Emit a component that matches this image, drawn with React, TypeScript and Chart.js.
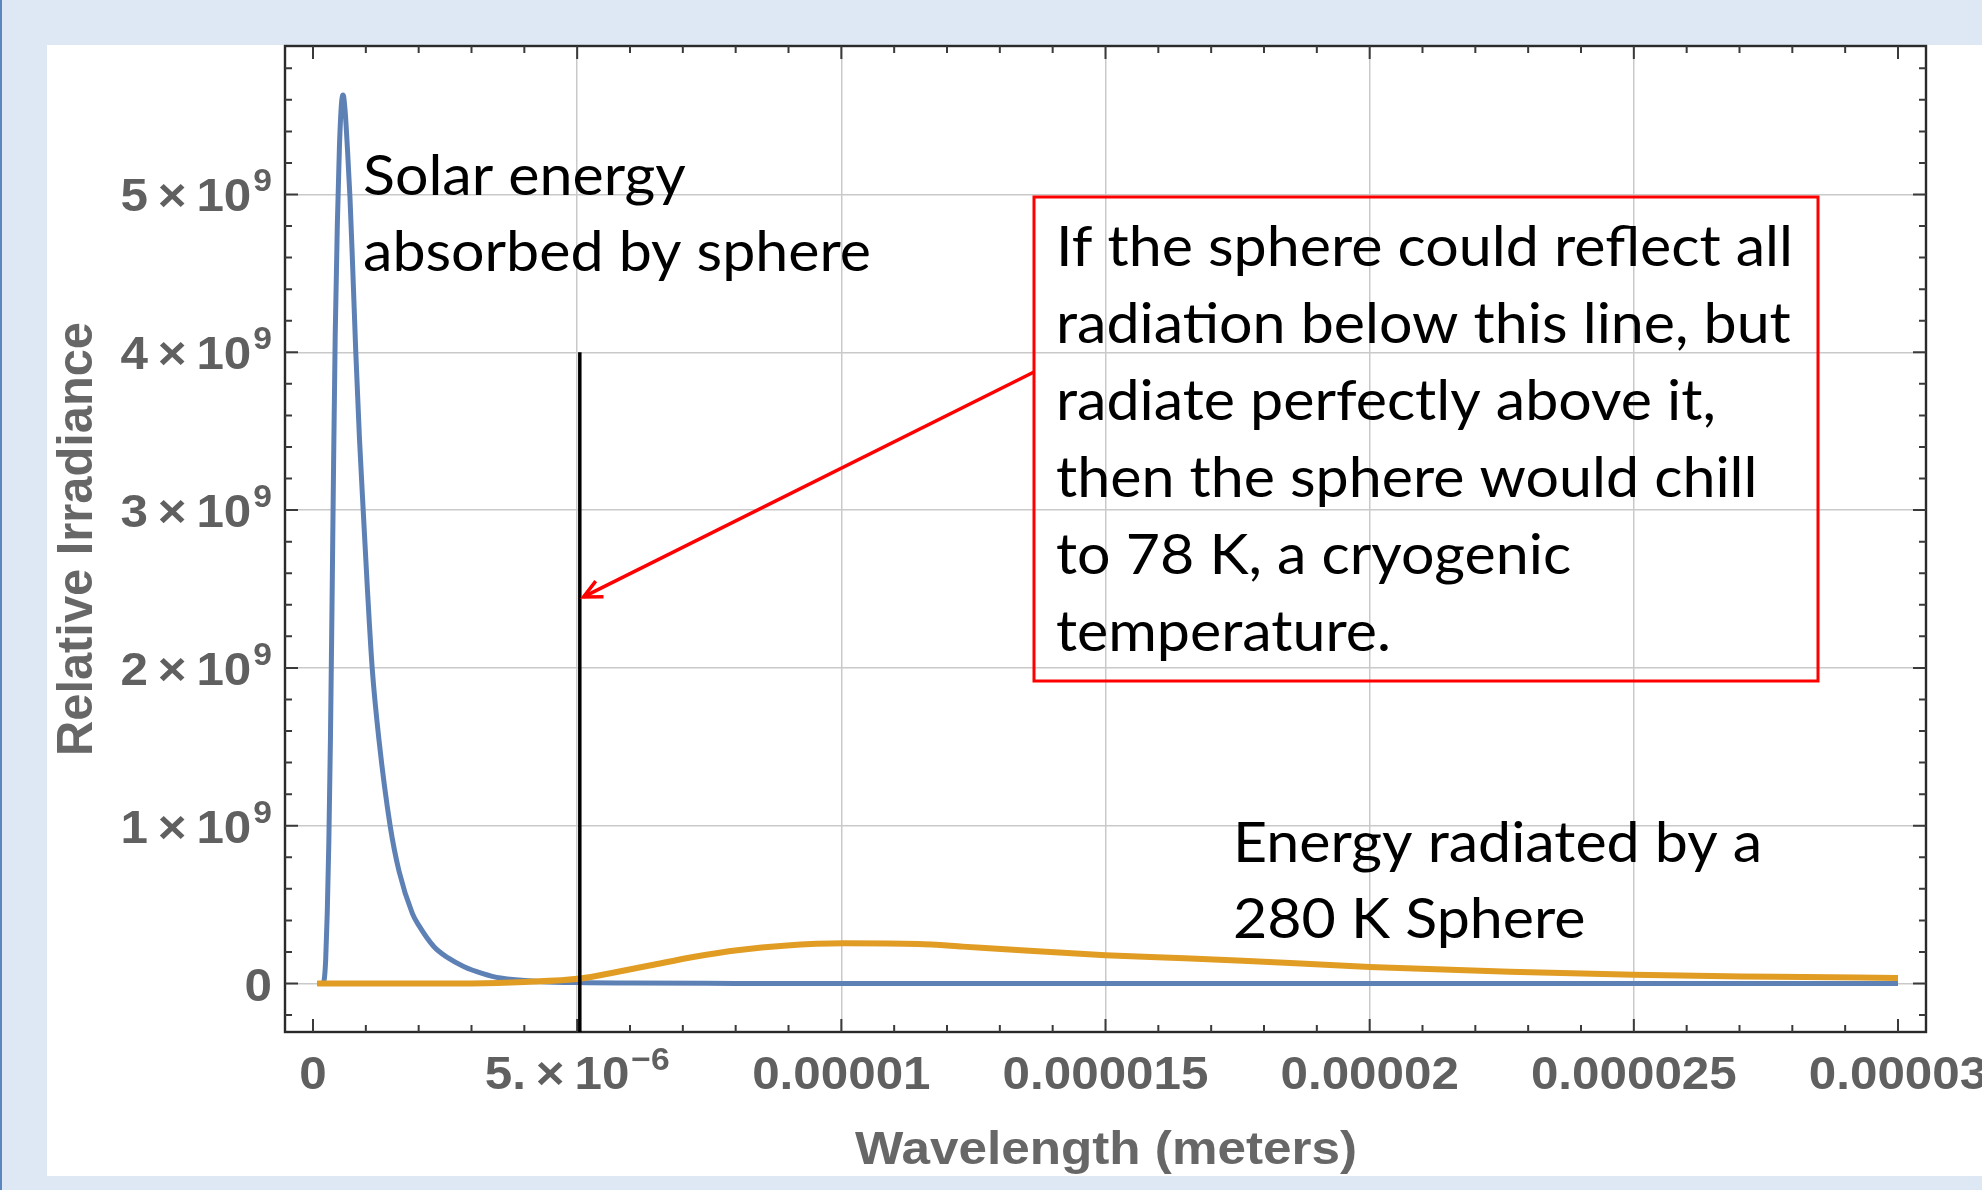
import React, { useEffect, useRef } from "react";
import { Chart, registerables } from "chart.js";

Chart.register(...registerables);

const W = 1982;
const H = 1190;

// ---- Data (wavelength in meters, irradiance relative) ----
const solarWavelength = [
  0.08e-6, 0.18e-6, 0.21e-6, 0.24e-6, 0.27e-6, 0.30e-6, 0.33e-6, 0.36e-6, 0.39e-6, 0.42e-6,
  0.46e-6, 0.50e-6, 0.54e-6, 0.57e-6, 0.61e-6, 0.65e-6, 0.70e-6, 0.75e-6, 0.81e-6, 0.88e-6,
  0.95e-6, 1.03e-6, 1.12e-6, 1.25e-6, 1.46e-6, 1.63e-6, 1.88e-6, 2.0e-6, 2.29e-6, 2.55e-6,
  2.86e-6, 3.2e-6, 3.55e-6, 4.37e-6, 5.0e-6, 6.0e-6, 8.0e-6, 10e-6, 15e-6, 20e-6, 25e-6, 30e-6,
];
const solarIrradiance = [
  0, 0, 0.02e9, 0.15e9, 0.45e9, 0.9e9, 1.55e9, 2.4e9, 3.3e9, 4.1e9,
  4.8e9, 5.3e9, 5.58e9, 5.63e9, 5.52e9, 5.3e9, 4.98e9, 4.55e9, 4.0e9, 3.45e9,
  3.0e9, 2.5e9, 2.0e9, 1.54e9, 1.0e9, 0.71e9, 0.445e9, 0.37e9, 0.233e9, 0.164e9,
  0.107e9, 0.065e9, 0.035e9, 0.012e9, 0.006e9, 0.003e9, 0.001e9, 0, 0, 0, 0, 0,
];

const sphereWavelength = [
  0.08e-6, 1e-6, 2e-6, 3e-6, 4e-6, 5.06e-6, 5.7e-6, 6.37e-6, 7.22e-6, 8.07e-6, 8.91e-6,
  10.05e-6, 11.45e-6, 12.3e-6, 13.1e-6, 15e-6, 16.5e-6, 17.6e-6, 20e-6, 22.65e-6,
  25e-6, 27.7e-6, 30e-6,
];
const sphereIrradiance = [
  0, 0, 0, 0.001e9, 0.01e9, 0.032e9, 0.07e9, 0.114e9, 0.17e9, 0.213e9, 0.24e9,
  0.255e9, 0.25e9, 0.234e9, 0.217e9, 0.18e9, 0.16e9, 0.145e9, 0.105e9, 0.075e9,
  0.055e9, 0.043e9, 0.035e9,
];

// ---- Axes ----
const X_MIN = -0.53e-6;
const X_MAX = 30.53e-6;
const Y_MIN = -0.307e9;
const Y_MAX = 5.941e9;

const xTickValues = [0, 5e-6, 1e-5, 1.5e-5, 2e-5, 2.5e-5, 3e-5];
const xTickLabels = ["0", "5.×10^−6", "0.00001", "0.000015", "0.00002", "0.000025", "0.00003"];
const xGridValues = [5e-6, 1e-5, 1.5e-5, 2e-5, 2.5e-5];
const xMinorStep = 1e-6;

const yTickValues = [0, 1e9, 2e9, 3e9, 4e9, 5e9];
const yTickLabels = ["0", "1×10^9", "2×10^9", "3×10^9", "4×10^9", "5×10^9"];
const yGridValues = [0, 1e9, 2e9, 3e9, 4e9, 5e9];
const yMinorStep = 0.2e9;

const xTitle = "Wavelength (meters)";
const yTitle = "Relative Irradiance";

// ---- Annotations ----
const cutoffWavelength = 5.05e-6;
const cutoffTop = 4e9;
const arrowTip = { x: 5.12e-6, y: 2.45e9 };
const solarLabel = ["Solar energy", "absorbed by sphere"];
const sphereLabel = ["Energy radiated by a", "280 K Sphere"];
const boxLines = [
  "If the sphere could reflect all",
  "radiation below this line, but",
  "radiate perfectly above it,",
  "then the sphere would chill",
  "to 78 K, a cryogenic",
  "temperature.",
];

const AREA = { left: 285, top: 46, right: 1926, bottom: 1032 };
const TICK_FONT = 'bold 47px "Liberation Sans", Arial, sans-serif';
const SUP_FONT = 'bold 32px "Liberation Sans", Arial, sans-serif';
const TICK_SX = 1.05;
const AXIS_GRAY = "#606060";
const NOTE_FONT = '57px Lato, "Open Sans", sans-serif';

function stretchText(ctx: CanvasRenderingContext2D, text: string, x: number, y: number, sx: number) {
  ctx.save();
  ctx.translate(x, y);
  ctx.scale(sx, 1);
  ctx.fillText(text, 0, 0);
  ctx.restore();
}

function drawTickLabel(
  ctx: CanvasRenderingContext2D,
  text: string,
  anchorX: number,
  baselineY: number,
  align: "center" | "right",
  supRaise: number
) {
  const parts = text.split("^");
  const base = parts[0].replace("×", "\u2009×\u2009");
  const exp = parts[1];
  ctx.textAlign = "left";
  ctx.textBaseline = "alphabetic";
  ctx.font = TICK_FONT;
  const wb = ctx.measureText(base).width * TICK_SX;
  let we = 0;
  if (exp) {
    ctx.font = SUP_FONT;
    we = ctx.measureText(exp).width * TICK_SX + 2;
  }
  const total = wb + we;
  const x0 = align === "center" ? anchorX - total / 2 : anchorX - total;
  ctx.font = TICK_FONT;
  stretchText(ctx, base, x0, baselineY, TICK_SX);
  if (exp) {
    ctx.font = SUP_FONT;
    stretchText(ctx, exp, x0 + wb + 2, baselineY - supRaise, TICK_SX);
  }
}

const decorPlugin = {
  id: "decor",
  beforeDraw(chart: any) {
    const ctx: CanvasRenderingContext2D = chart.ctx;
    ctx.save();
    ctx.fillStyle = "#dde8f4";
    ctx.fillRect(0, 0, W, H);
    ctx.fillStyle = "#5b86c0";
    ctx.fillRect(0, 0, 2, H);
    ctx.fillStyle = "#ffffff";
    ctx.fillRect(47, 45, W - 47, 1176 - 45);
    ctx.restore();
  },
  afterDatasetsDraw(chart: any) {
    const ctx: CanvasRenderingContext2D = chart.ctx;
    const xs = chart.scales.x;
    const ys = chart.scales.y;
    const a = chart.chartArea;
    ctx.save();

    // frame
    ctx.strokeStyle = "#2a2a2a";
    ctx.lineWidth = 2.4;
    ctx.strokeRect(a.left, a.top, a.right - a.left, a.bottom - a.top);

    // ticks
    ctx.strokeStyle = "#3a3a3a";
    ctx.lineWidth = 2;
    const MAJ = 13;
    const MIN = 7;
    ctx.beginPath();
    for (let i = 0; i <= 30; i++) {
      const v = i * xMinorStep;
      const px = xs.getPixelForValue(v);
      const len = i % 5 === 0 ? MAJ : MIN;
      ctx.moveTo(px, a.bottom);
      ctx.lineTo(px, a.bottom - len);
      ctx.moveTo(px, a.top);
      ctx.lineTo(px, a.top + len);
    }
    for (let i = -1; i <= 29; i++) {
      const v = i * yMinorStep;
      const py = ys.getPixelForValue(v);
      const len = i % 5 === 0 ? MAJ : MIN;
      ctx.moveTo(a.left, py);
      ctx.lineTo(a.left + len, py);
      ctx.moveTo(a.right, py);
      ctx.lineTo(a.right - len, py);
    }
    ctx.stroke();

    // tick labels
    ctx.fillStyle = AXIS_GRAY;
    xTickValues.forEach((v, i) => {
      drawTickLabel(ctx, xTickLabels[i], xs.getPixelForValue(v), a.bottom + 57, "center", 19);
    });
    yTickValues.forEach((v, i) => {
      const py = ys.getPixelForValue(v);
      drawTickLabel(ctx, yTickLabels[i], a.left - 13, py + 17, "right", 20);
    });

    // axis titles
    ctx.font = 'bold 46px "Liberation Sans", Arial, sans-serif';
    ctx.textAlign = "center";
    ctx.textBaseline = "alphabetic";
    ctx.fillStyle = "#676767";
    const wx = ctx.measureText(xTitle).width;
    ctx.save();
    ctx.translate(1106, 1164);
    ctx.scale(502 / wx, 1);
    ctx.fillText(xTitle, 0, 0);
    ctx.restore();
    const wy = ctx.measureText(yTitle).width;
    ctx.save();
    ctx.translate(92, 539);
    ctx.rotate(-Math.PI / 2);
    ctx.scale(434 / wy, 1.1);
    ctx.fillText(yTitle, 0, 0);
    ctx.restore();

    // cutoff line
    const lx = xs.getPixelForValue(cutoffWavelength);
    ctx.strokeStyle = "#000000";
    ctx.lineWidth = 3.5;
    ctx.beginPath();
    ctx.moveTo(lx, ys.getPixelForValue(cutoffTop));
    ctx.lineTo(lx, a.bottom);
    ctx.stroke();

    // red box
    const box = { left: 1034, top: 197, right: 1818, bottom: 681 };
    ctx.strokeStyle = "#ff0000";
    ctx.lineWidth = 3;
    ctx.strokeRect(box.left, box.top, box.right - box.left, box.bottom - box.top);

    // arrow
    const tx = xs.getPixelForValue(arrowTip.x);
    const ty = ys.getPixelForValue(arrowTip.y);
    const sx0 = box.left;
    const sy0 = 372;
    ctx.lineWidth = 3.5;
    ctx.beginPath();
    ctx.moveTo(sx0, sy0);
    ctx.lineTo(tx, ty);
    ctx.stroke();
    const ang = Math.atan2(ty - sy0, tx - sx0);
    const hl = 20;
    ctx.beginPath();
    ctx.moveTo(tx - hl * Math.cos(ang - 0.45), ty - hl * Math.sin(ang - 0.45));
    ctx.lineTo(tx, ty);
    ctx.lineTo(tx - hl * Math.cos(ang + 0.45), ty - hl * Math.sin(ang + 0.45));
    ctx.stroke();

    // annotation texts
    ctx.fillStyle = "#000000";
    ctx.font = NOTE_FONT;
    ctx.textAlign = "left";
    ctx.textBaseline = "alphabetic";
    const nsx = 737 / ctx.measureText(boxLines[0]).width;
    boxLines.forEach((t, i) => stretchText(ctx, t, 1056, 266 + i * 77, nsx));
    solarLabel.forEach((t, i) => stretchText(ctx, t, 363, 195 + i * 76, nsx));
    sphereLabel.forEach((t, i) => stretchText(ctx, t, 1233, 862 + i * 76, nsx));

    ctx.restore();
  },
};

export default function App() {
  const ref = useRef<HTMLCanvasElement | null>(null);

  useEffect(() => {
    document.body.style.margin = "0";
    document.body.style.overflow = "hidden";
    document.documentElement.style.overflow = "hidden";
    const canvas = ref.current;
    if (!canvas) return;
    const chart = new Chart(canvas, {
      type: "line",
      data: {
        datasets: [
          {
            label: "280 K sphere",
            data: sphereWavelength.map((x, i) => ({ x, y: sphereIrradiance[i] })),
            borderColor: "#e19c24",
            borderWidth: 6,
            pointRadius: 0,
            fill: false,
            cubicInterpolationMode: "monotone",
          },
          {
            label: "Solar",
            data: solarWavelength.map((x, i) => ({ x, y: solarIrradiance[i] })),
            borderColor: "#5e81b5",
            borderWidth: 5,
            pointRadius: 0,
            fill: false,
            cubicInterpolationMode: "monotone",
          },
        ],
      },
      options: {
        responsive: false,
        maintainAspectRatio: false,
        animation: false,
        devicePixelRatio: 1,
        layout: {
          padding: {
            left: AREA.left,
            top: AREA.top,
            right: W - AREA.right,
            bottom: H - AREA.bottom,
          },
        },
        plugins: {
          legend: { display: false },
          tooltip: { enabled: false },
        },
        scales: {
          x: {
            type: "linear",
            min: X_MIN,
            max: X_MAX,
            afterBuildTicks: (s: any) => {
              s.ticks = xTickValues.map((v) => ({ value: v }));
            },
            ticks: { display: false },
            grid: {
              drawTicks: false,
              lineWidth: 1.5,
              color: (c: any) =>
                c.tick && xGridValues.includes(c.tick.value) ? "#c9c9c9" : "rgba(0,0,0,0)",
            },
            border: { display: false },
          },
          y: {
            type: "linear",
            min: Y_MIN,
            max: Y_MAX,
            afterBuildTicks: (s: any) => {
              s.ticks = yTickValues.map((v) => ({ value: v }));
            },
            ticks: { display: false },
            grid: {
              drawTicks: false,
              lineWidth: 1.5,
              color: (c: any) =>
                c.tick && yGridValues.includes(c.tick.value) ? "#c9c9c9" : "rgba(0,0,0,0)",
            },
            border: { display: false },
          },
        },
      } as any,
      plugins: [decorPlugin],
    });
    return () => chart.destroy();
  }, []);

  return <canvas ref={ref} width={W} height={H} style={{ display: "block", width: W, height: H }} />;
}
